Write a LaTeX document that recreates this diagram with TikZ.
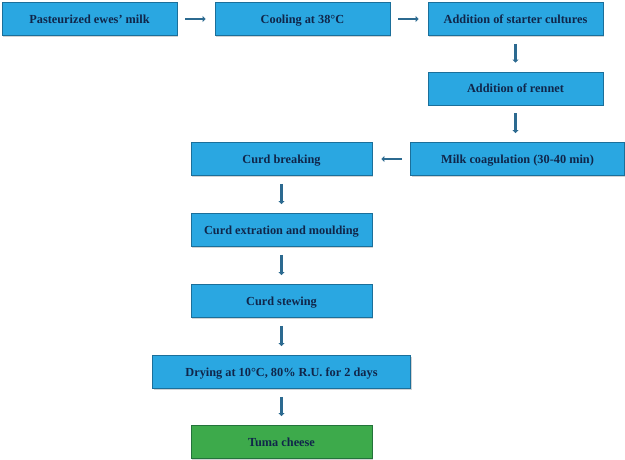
\documentclass[tikz,border=0pt]{standalone}
\usepackage{fontspec}
\setmainfont{Liberation Serif}
\usetikzlibrary{arrows.meta,shadows}

\definecolor{caixa}{HTML}{2AA7E1}
\definecolor{borda}{HTML}{1B6F9A}
\definecolor{verde}{HTML}{3DAA4B}
\definecolor{bordaverde}{HTML}{23733A}
\definecolor{texto}{HTML}{10264A}
\definecolor{seta}{HTML}{2C6A90}

\tikzset{
  etapa/.style={draw=borda, line width=0.7pt, fill=caixa, text=texto,
    minimum height=33pt, inner sep=0pt, text height=10pt, text depth=1.2pt,
    drop shadow={shadow xshift=1.2pt, shadow yshift=-1.2pt, opacity=0.35}},
  final/.style={etapa, draw=bordaverde, fill=verde},
  passo/.style={draw=seta, line width=2.6pt, -{Triangle[length=3pt,width=6pt]},
    shorten <=8pt, shorten >=9pt}
}

\begin{document}
\begin{tikzpicture}[x=1pt, y=-1pt, font=\fontsize{12.3}{14}\selectfont\bfseries]
    \useasboundingbox (0,0) rectangle (625,460);

    % linha 1
    \node[etapa, minimum width=175pt] (pasteur) at (89.5,19) {Pasteurized ewes’ milk};
    \node[etapa, minimum width=175pt] (resfria) at (302.5,19) {Cooling at 38°C};
    \node[etapa, minimum width=175pt] (fermento) at (515.5,19) {Addition of starter cultures};

    % coluna direita
    \node[etapa, minimum width=175pt] (coalho) at (515.5,88.5) {Addition of rennet};
    \node[etapa, minimum width=214pt] (coagula) at (517.5,159) {Milk coagulation (30-40 min)};

    % coluna central
    \node[etapa, minimum width=181pt] (quebra) at (281.5,159) {Curd breaking};
    \node[etapa, minimum width=181pt] (extracao) at (281.5,230) {Curd extration and moulding};
    \node[etapa, minimum width=181pt] (cozimento) at (281.5,301) {Curd stewing};
    \node[etapa, minimum width=258pt] (secagem) at (281.5,372) {Drying at 10°C, 80\% R.U. for 2 days};
    \node[final, minimum width=181pt] (tuma) at (281.5,442) {Tuma cheese};

    % setas
    \draw[passo] (pasteur) -- (resfria);
    \draw[passo] (resfria) -- (fermento);
    \draw[passo] (fermento) -- (coalho);
    \draw[passo] (coalho) -- (coalho |- coagula.north);
    \draw[passo] (coagula) -- (quebra);
    \draw[passo] (quebra) -- (extracao);
    \draw[passo] (extracao) -- (cozimento);
    \draw[passo] (cozimento) -- (secagem);
    \draw[passo] (secagem) -- (tuma);
  \end{tikzpicture}
\end{document}
